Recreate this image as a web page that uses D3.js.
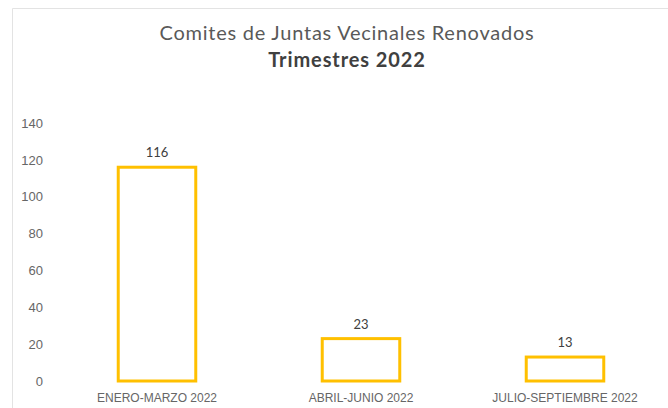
<!DOCTYPE html>
<html lang="es">
<head>
<meta charset="utf-8">
<script src="https://d3js.org/d3.v7.min.js"></script>
<style>
  body { margin: 0; background: #fff; }
  svg { font-family: Lato, "Open Sans", sans-serif; }
  .tick text { fill: #666; }
</style>
</head>
<body>
<svg width="668" height="408"></svg>
<script>
const categories = ["ENERO-MARZO 2022", "ABRIL-JUNIO 2022", "JULIO-SEPTIEMBRE 2022"];
const values = [116, 23, 13];
const yTicks = [0, 20, 40, 60, 80, 100, 120, 140];

const svg = d3.select("svg");

// chart frame
svg.append("path")
  .attr("d", "M12.5,408 V8.5 H668")
  .attr("fill", "none")
  .attr("stroke", "#e3e3e3")
  .attr("stroke-width", 1);

const x = d3.scaleBand().domain(categories).range([55, 667]).paddingInner(0.62).paddingOuter(0.31);
const y = d3.scaleLinear().domain([0, 140]).range([381, 123]);

// title
svg.append("text")
  .attr("x", 347).attr("y", 40)
  .attr("text-anchor", "middle")
  .attr("fill", "#595959")
  .attr("font-size", 20)
  .attr("letter-spacing", 0.75)
  .text("Comites de Juntas Vecinales Renovados");
svg.append("text")
  .attr("x", 347).attr("y", 67)
  .attr("text-anchor", "middle")
  .attr("fill", "#404040")
  .attr("font-size", 20)
  .attr("font-weight", "bold")
  .attr("letter-spacing", 0.9)
  .text("Trimestres 2022");

// y axis (labels only)
svg.append("g")
  .attr("transform", "translate(43,0)")
  .call(d3.axisLeft(y).tickValues(yTicks).tickSize(0).tickPadding(0))
  .call(g => g.select(".domain").remove())
  .call(g => g.selectAll("text").attr("font-size", 13));

// x axis (labels only)
svg.append("g")
  .attr("transform", "translate(0,381)")
  .call(d3.axisBottom(x).tickSize(0).tickPadding(12))
  .call(g => g.select(".domain").remove())
  .call(g => g.selectAll("text").attr("font-size", 12));

// bars
svg.append("g")
  .selectAll("rect")
  .data(values)
  .join("rect")
  .attr("x", (d, i) => x(categories[i]))
  .attr("y", d => y(d))
  .attr("width", x.bandwidth())
  .attr("height", d => y(0) - y(d))
  .attr("fill", "none")
  .attr("stroke", "#ffc000")
  .attr("stroke-width", 3);

// value labels
svg.append("g")
  .selectAll("text")
  .data(values)
  .join("text")
  .attr("x", (d, i) => x(categories[i]) + x.bandwidth() / 2)
  .attr("y", d => y(d) - 10)
  .attr("text-anchor", "middle")
  .attr("fill", "#404040")
  .attr("font-size", 13)
  .text(d => d);
</script>
</body>
</html>
